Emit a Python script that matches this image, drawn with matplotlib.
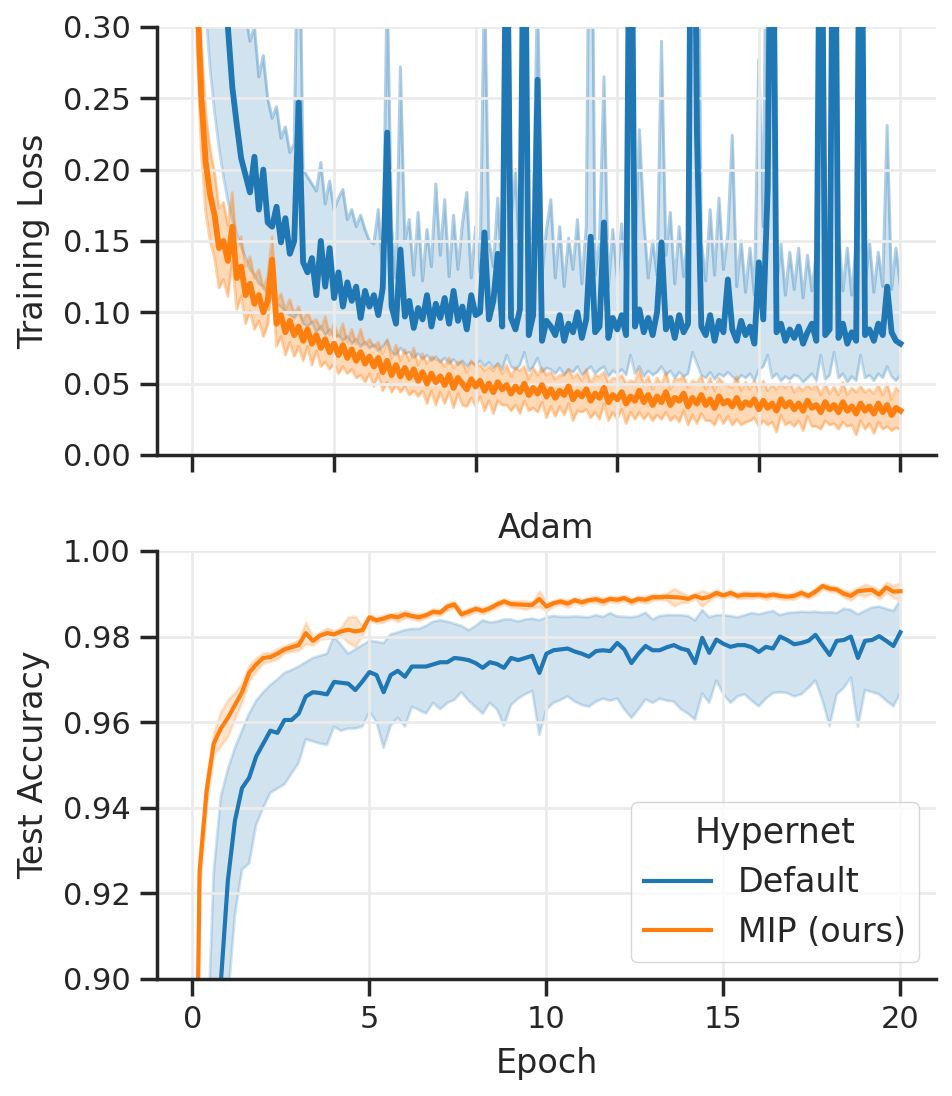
import numpy as np
import matplotlib
matplotlib.use('Agg')
import matplotlib.pyplot as plt

# Training loss, in thousandths, one value every 1/8 epoch
default_loss = [
    520, 470, 430, 400, 370, 345, 320, 300,
    258, 232, 208, 196, 184, 209, 172, 200,
    163, 160, 174, 149, 166, 141, 150, 247,
    135, 128, 138, 112, 150, 118, 145, 110,
    128, 104, 121, 108, 118, 96, 115, 104,
    112, 98, 117, 226, 104, 92, 144, 97,
    108, 89, 103, 95, 112, 90, 106, 96,
    110, 92, 115, 94, 104, 88, 112, 98,
    100, 156, 95, 108, 141, 90, 420, 96,
    88, 102, 450, 84, 98, 263, 80, 94,
    90, 84, 98, 80, 92, 86, 100, 82,
    95, 153, 86, 90, 163, 82, 96, 88,
    98, 84, 500, 90, 102, 86, 96, 84,
    100, 149, 88, 96, 82, 98, 86, 92,
    600, 228, 90, 84, 98, 80, 94, 86,
    123, 88, 80, 94, 84, 90, 78, 135,
    95, 187, 500, 86, 92, 80, 88, 82,
    90, 78, 86, 92, 80, 500, 84, 88,
    520, 82, 92, 78, 86, 80, 500, 84,
    88, 80, 92, 84, 118, 86, 80, 78,
]
default_loss_hi = [
    700, 650, 600, 560, 520, 480, 450, 420,
    390, 360, 330, 310, 290, 300, 265, 280,
    250, 236, 244, 222, 230, 212, 218, 420,
    200, 195, 190, 185, 205, 176, 192, 172,
    180, 186, 165, 172, 160, 168, 158, 150,
    148, 172, 128, 330, 160, 124, 272, 150,
    165, 126, 170, 122, 158, 132, 190, 140,
    179, 125, 168, 130, 162, 184, 124, 160,
    128, 340, 150, 132, 180, 125, 500, 165,
    200, 128, 520, 122, 165, 330, 126, 158,
    179, 124, 160, 118, 152, 130, 165, 120,
    160, 520, 126, 150, 265, 118, 158, 124,
    162, 122, 600, 140, 228, 165, 124, 150,
    126, 290, 140, 170, 120, 160, 125, 155,
    620, 520, 150, 122, 172, 126, 180, 130,
    155, 224, 118, 150, 114, 145, 112, 277,
    160, 500, 600, 118, 148, 112, 142, 116,
    145, 110, 140, 115, 142, 600, 114, 138,
    620, 158, 115, 145, 112, 148, 600, 118,
    150, 114, 142, 118, 231, 116, 145, 118,
]
default_loss_lo = [
    420, 360, 310, 270, 240, 215, 195, 178,
    165, 155, 146, 138, 130, 126, 120, 118,
    112, 110, 106, 104, 100, 98, 96, 100,
    92, 90, 93, 86, 90, 84, 88, 82,
    84, 80, 83, 78, 81, 76, 79, 75,
    77, 73, 76, 80, 72, 70, 75, 71,
    72, 68, 71, 67, 70, 66, 69, 65,
    68, 64, 67, 63, 66, 62, 65, 63,
    66, 62, 65, 61, 64, 60, 70, 62,
    60, 63, 72, 59, 62, 68, 58, 61,
    60, 57, 61, 56, 60, 58, 62, 56,
    59, 62, 57, 60, 62, 55, 59, 57,
    60, 56, 70, 57, 62, 55, 59, 56,
    58, 62, 56, 59, 54, 58, 55, 57,
    72, 64, 56, 54, 58, 53, 57, 55,
    58, 55, 52, 56, 54, 57, 52, 60,
    62, 70, 54, 57, 52, 55, 53, 56,
    55, 51, 54, 57, 52, 70, 53, 56,
    72, 54, 57, 51, 55, 52, 70, 54,
    56, 52, 57, 54, 62, 55, 52, 56,
]
mip_loss = [
    330, 250, 205, 182, 168, 145, 150, 136,
    160, 124, 132, 112, 120, 106, 112, 100,
    108, 137, 92, 98, 86, 94, 84, 90,
    80, 88, 78, 84, 75, 81, 72, 78,
    70, 77, 68, 74, 66, 72, 64, 69,
    62, 68, 58, 66, 56, 63, 55, 61,
    54, 60, 52, 58, 50, 57, 51, 55,
    49, 56, 47, 54, 50, 46, 53, 48,
    52, 45, 50, 44, 51, 46, 49, 43,
    48, 44, 50, 42, 47, 43, 49, 41,
    46, 40, 45, 42, 48, 39, 44, 41,
    46, 38, 43, 40, 47, 37, 42, 39,
    44, 36, 41, 38, 45, 37, 42, 35,
    41, 37, 44, 35, 40, 38, 43, 34,
    40, 36, 42, 35, 39, 33, 41, 36,
    38, 34, 40, 33, 37, 35, 39, 32,
    38, 33, 36, 31, 39, 34, 37, 32,
    36, 31, 38, 33, 35, 30, 37, 32,
    35, 30, 37, 31, 34, 29, 36, 31,
    34, 29, 36, 30, 35, 28, 33, 31,
]
mip_loss_spread = [
    40, 38, 35, 32, 30, 28, 27, 25,
    24, 22, 21, 20, 19, 18, 18, 17,
    17, 16, 16, 15, 16, 15, 15, 14,
    14, 12, 15, 11, 13, 16, 12, 14,
    13, 15, 11, 14, 12, 16, 13, 12,
    14, 11, 13, 15, 12, 14, 11, 13,
    12, 15, 11, 13, 14, 12, 16, 11,
    13, 12, 14, 11, 15, 12, 13, 14,
    11, 14, 12, 15, 13, 11, 14, 12,
    13, 15, 12, 11, 14, 13, 12, 15,
    12, 13, 11, 14, 12, 15, 13, 11,
    14, 12, 13, 15, 11, 13, 12, 14,
    12, 14, 11, 13, 15, 12, 13, 11,
    13, 12, 14, 11, 13, 15, 12, 13,
    12, 14, 13, 11, 15, 12, 13, 14,
    11, 13, 15, 12, 14, 11, 13, 12,
    14, 12, 13, 15, 11, 13, 14, 12,
    12, 14, 11, 13, 15, 12, 13, 11,
    13, 12, 14, 11, 13, 15, 12, 13,
    12, 14, 13, 12, 15, 11, 14, 13,
]

# Test accuracy, one value every 0.2 epoch (0 .. 20)
default_acc = [
    0.50,
    0.70, 0.82, 0.875, 0.899, 0.923,
    0.937, 0.9446, 0.947, 0.952, 0.955,
    0.958, 0.9575, 0.9605, 0.9605, 0.962,
    0.966, 0.967, 0.9668, 0.9665, 0.9694,
    0.9692, 0.969, 0.9675, 0.9695, 0.9717,
    0.971, 0.967, 0.971, 0.972, 0.9706,
    0.973, 0.973, 0.973, 0.9735, 0.974,
    0.974, 0.975, 0.9748, 0.9745, 0.9738,
    0.9727, 0.974, 0.9736, 0.9727, 0.975,
    0.9745, 0.975, 0.9755, 0.9715, 0.976,
    0.9768, 0.977, 0.9772, 0.9765, 0.976,
    0.9753, 0.9766, 0.9768, 0.9766, 0.9785,
    0.977, 0.9738, 0.976, 0.9778, 0.9768,
    0.9768, 0.9775, 0.978, 0.9772, 0.9768,
    0.9738, 0.9797, 0.9762, 0.9793, 0.9783,
    0.9776, 0.978, 0.978, 0.9775, 0.9764,
    0.9776, 0.9772, 0.98, 0.9792, 0.9782,
    0.9785, 0.979, 0.9804, 0.978, 0.9757,
    0.979, 0.9792, 0.98, 0.975, 0.979,
    0.9792, 0.9801, 0.979, 0.9778, 0.981,
]
default_acc_hi = [
    0.60,
    0.80, 0.88, 0.925, 0.9425, 0.949,
    0.954, 0.958, 0.962, 0.965, 0.967,
    0.9687, 0.970, 0.9715, 0.9722, 0.973,
    0.974, 0.975, 0.9755, 0.976, 0.980,
    0.978, 0.976, 0.977, 0.978, 0.979,
    0.9788, 0.9785, 0.9805, 0.981, 0.9815,
    0.9818, 0.9818, 0.9825, 0.9835, 0.9838,
    0.9835, 0.983, 0.9825, 0.9815, 0.9825,
    0.9838, 0.9833, 0.9835, 0.984, 0.984,
    0.9835, 0.984, 0.9842, 0.9838, 0.9845,
    0.9848, 0.9846, 0.9846, 0.9847, 0.9846,
    0.9845, 0.985, 0.9846, 0.9855, 0.9847,
    0.9846, 0.9845, 0.9848, 0.9856, 0.984,
    0.9848, 0.985, 0.985, 0.985, 0.9848,
    0.9838, 0.9862, 0.9845, 0.985, 0.985,
    0.9848, 0.9845, 0.985, 0.9855, 0.9852,
    0.9856, 0.986, 0.985, 0.9855, 0.9856,
    0.9858, 0.9857, 0.9858, 0.9856, 0.9857,
    0.9855, 0.9865, 0.9862, 0.9852, 0.986,
    0.9868, 0.987, 0.9865, 0.986, 0.9885,
]
default_acc_lo = [
    0.30,
    0.50, 0.65, 0.75, 0.82, 0.895,
    0.915, 0.9255, 0.927, 0.936, 0.940,
    0.9435, 0.9445, 0.9455, 0.948, 0.9505,
    0.956, 0.9555, 0.955, 0.9547, 0.9589,
    0.958, 0.9585, 0.9585, 0.959, 0.9624,
    0.960, 0.954, 0.9592, 0.961, 0.959,
    0.9636, 0.9628, 0.962, 0.9645, 0.963,
    0.9645, 0.9652, 0.967, 0.965, 0.9635,
    0.962, 0.9645, 0.963, 0.9592, 0.964,
    0.9655, 0.9665, 0.9673, 0.957, 0.963,
    0.9645, 0.9652, 0.966, 0.9648, 0.964,
    0.9636, 0.9648, 0.9655, 0.965, 0.9655,
    0.963, 0.961, 0.963, 0.9653, 0.9645,
    0.9655, 0.965, 0.9648, 0.963, 0.962,
    0.9606, 0.9667, 0.9645, 0.9697, 0.9665,
    0.9645, 0.966, 0.9665, 0.965, 0.9637,
    0.9655, 0.9668, 0.967, 0.9668, 0.966,
    0.9665, 0.968, 0.9697, 0.965, 0.9591,
    0.9665, 0.968, 0.9704, 0.9589, 0.9675,
    0.967, 0.9665, 0.965, 0.9637, 0.9667,
]
mip_acc = [
    0.80,
    0.925, 0.944, 0.955, 0.9585, 0.961,
    0.964, 0.967, 0.9715, 0.9735, 0.975,
    0.9752, 0.976, 0.977, 0.9775, 0.978,
    0.9808, 0.979, 0.9802, 0.9808, 0.9805,
    0.9812, 0.9816, 0.9812, 0.9815, 0.9845,
    0.9838, 0.9842, 0.9848, 0.9845, 0.9852,
    0.9848, 0.9845, 0.985, 0.9858, 0.9856,
    0.987, 0.9875, 0.9852, 0.9858, 0.9865,
    0.986, 0.9866, 0.9875, 0.9882, 0.9876,
    0.9875, 0.9874, 0.9874, 0.9888, 0.987,
    0.9878, 0.9882, 0.9877, 0.9885, 0.988,
    0.9885, 0.9887, 0.9882, 0.9888, 0.9886,
    0.989, 0.9882, 0.9888, 0.9886, 0.9892,
    0.9892, 0.9893, 0.9892, 0.9891, 0.9888,
    0.9895, 0.9889, 0.9893, 0.9902, 0.9896,
    0.9902, 0.9895, 0.9898, 0.9897, 0.9898,
    0.9895, 0.9898, 0.9895, 0.9893, 0.9895,
    0.9902, 0.9895, 0.9905, 0.9918, 0.9912,
    0.991, 0.99, 0.9895, 0.9906, 0.9908,
    0.9909, 0.9898, 0.9915, 0.9905, 0.9906,
]
# half width of the MIP accuracy band, in units of 1e-4
mip_acc_spread = [
    100,
    40, 30, 25, 40, 42,
    30, 22, 18, 15, 12,
    10, 12, 8, 10, 12,
    25, 10, 8, 12, 8,
    10, 30, 35, 10, 8,
    6, 8, 6, 10, 8,
    6, 8, 6, 7, 6,
    8, 7, 6, 8, 6,
    7, 6, 8, 6, 7,
    8, 10, 6, 18, 10,
    6, 7, 8, 6, 7,
    6, 7, 8, 6, 7,
    6, 7, 6, 8, 7,
    6, 8, 20, 12, 7,
    6, 18, 8, 7, 6,
    7, 6, 8, 7, 6,
    8, 6, 7, 6, 8,
    7, 6, 8, 6, 7,
    6, 8, 10, 8, 14,
    8, 10, 12, 14, 20,
]

BLUE = '#1f77b4'
ORANGE = '#ff7f0e'
DARK = '#262626'

plt.rcParams.update({
    'font.family': 'DejaVu Sans',
    'text.color': DARK,
    'axes.labelcolor': DARK,
    'xtick.color': DARK,
    'ytick.color': DARK,
    'axes.edgecolor': DARK,
    'axes.linewidth': 2.5,
    'xtick.major.width': 2.5,
    'ytick.major.width': 2.5,
    'xtick.major.size': 12,
    'ytick.major.size': 12,
    'xtick.major.pad': 7,
    'ytick.major.pad': 7,
    'xtick.labelsize': 22,
    'ytick.labelsize': 22,
    'axes.labelsize': 24,
    'axes.titlesize': 24,
    'axes.labelpad': 9,
    'grid.color': '#ebebeb',
    'grid.linewidth': 2,
})

# loss: per-1/8-epoch samples, accuracy: per-0.2-epoch samples
loss_ep = np.arange(1, len(default_loss) + 1) * 20.0 / len(default_loss)
acc_ep = np.linspace(0, 20, len(default_acc))

d_loss = np.array(default_loss) / 1000
d_hi = np.array(default_loss_hi) / 1000
d_lo = np.array(default_loss_lo) / 1000
m_loss = np.array(mip_loss) / 1000
m_sp = np.array(mip_loss_spread) / 1000

fig = plt.figure(figsize=(9.52, 10.96), dpi=100)
ax1 = fig.add_axes([0.165, 0.5849, 0.818, 0.3905])
ax2 = fig.add_axes([0.165, 0.1068, 0.818, 0.3905])

# Top: training loss, band edges drawn a bit stronger like the noisy original
ax1.plot(loss_ep, d_loss, color=BLUE, lw=4.2)
ax1.fill_between(loss_ep, d_lo, d_hi, color=BLUE, alpha=0.2, lw=0)
ax1.plot(loss_ep, d_hi, color=BLUE, alpha=0.35, lw=2.2, zorder=1)
ax1.plot(loss_ep, d_lo, color=BLUE, alpha=0.25, lw=2, zorder=1)
ax1.plot(loss_ep, m_loss, color=ORANGE, lw=4.2)
ax1.fill_between(loss_ep, m_loss - m_sp, m_loss + m_sp, color=ORANGE, alpha=0.3, lw=0)
ax1.plot(loss_ep, m_loss + m_sp, color=ORANGE, alpha=0.35, lw=2, zorder=1)
ax1.plot(loss_ep, m_loss - m_sp, color=ORANGE, alpha=0.35, lw=2, zorder=1)
ax1.set_xlim(-1, 21)
ax1.set_ylim(0, 0.30)
ax1.set_xticks([0, 4, 8, 12, 16, 20])
ax1.set_xticklabels([])
ax1.set_yticks(np.arange(0, 0.301, 0.05))
ax1.set_yticklabels(['%.2f' % v for v in np.arange(0, 0.301, 0.05)])
ax1.set_ylabel('Training Loss')
ax1.grid(True)

# Bottom: test accuracy
d_acc = np.array(default_acc)
m_acc = np.array(mip_acc)
m_acc_sp = np.array(mip_acc_spread) / 1e4
ax2.plot(acc_ep, d_acc, color=BLUE, lw=3, label='Default')
ax2.fill_between(acc_ep, default_acc_lo, default_acc_hi, color=BLUE, alpha=0.2, lw=2)
ax2.plot(acc_ep, m_acc, color=ORANGE, lw=3, label='MIP (ours)')
ax2.fill_between(acc_ep, m_acc - m_acc_sp, m_acc + m_acc_sp, color=ORANGE, alpha=0.2, lw=2)
ax2.set_xlim(-1, 21)
ax2.set_ylim(0.90, 1.00)
ax2.set_xticks([0, 5, 10, 15, 20])
ax2.set_yticks(np.arange(0.90, 1.001, 0.02))
ax2.set_yticklabels(['%.2f' % v for v in np.arange(0.90, 1.001, 0.02)])
ax2.set_xlabel('Epoch')
ax2.set_ylabel('Test Accuracy')
ax2.set_title('Adam', pad=9)
ax2.grid(True)
leg = ax2.legend(title='Hypernet', loc='lower right', fontsize=24, title_fontsize=25,
                 frameon=True, edgecolor='#cccccc', framealpha=0.8)

for ax in (ax1, ax2):
    ax.spines['top'].set_visible(False)
    ax.spines['right'].set_visible(False)

plt.savefig('out.png', dpi=100)
